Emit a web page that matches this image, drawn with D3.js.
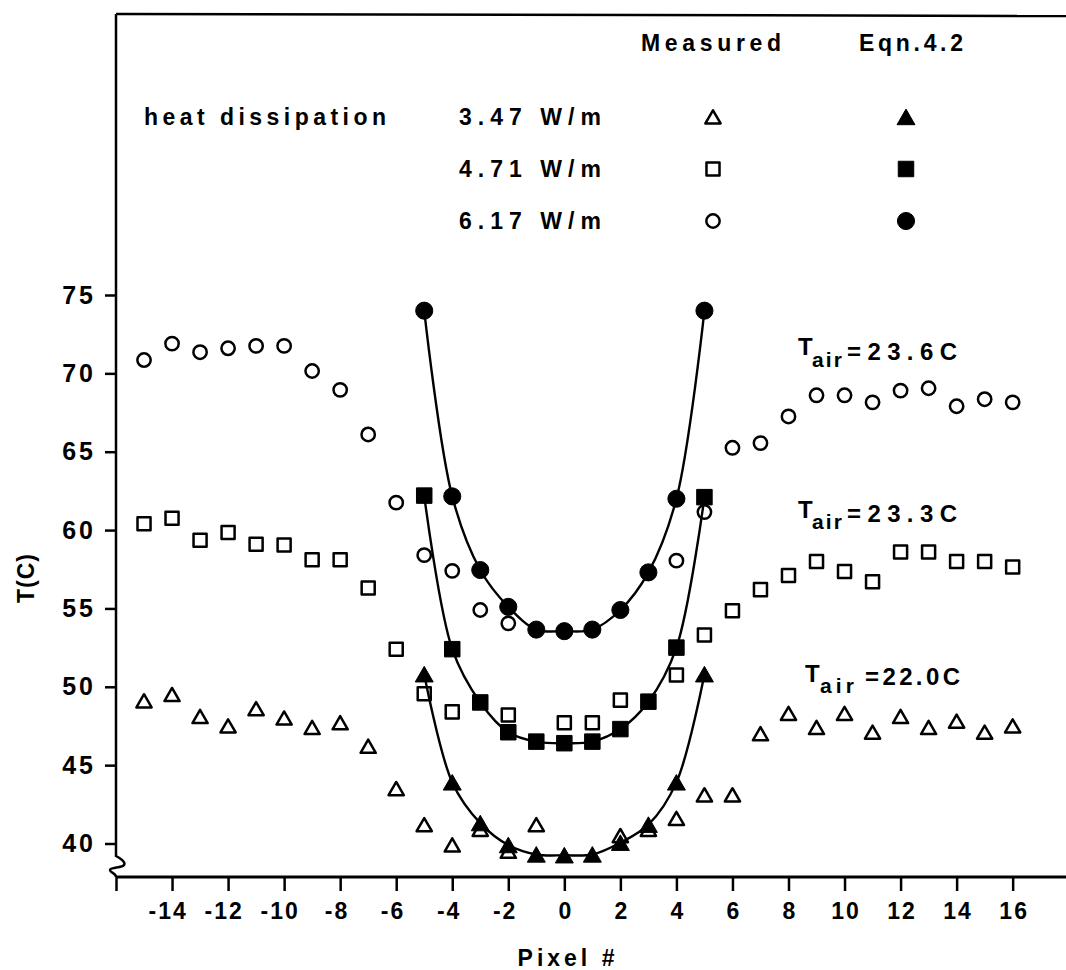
<!DOCTYPE html>
<html><head><meta charset="utf-8">
<script src="https://cdn.jsdelivr.net/npm/d3@7"></script>
<style>
html,body{margin:0;padding:0;background:#fff;}
svg{display:block;}
text{font-family:"Liberation Sans",Arial,sans-serif;font-weight:bold;fill:#000;}
</style></head><body>
<svg id="chart" width="1066" height="970"></svg>
<script>
// ---------- data ----------
const pixels = [-15,-14,-13,-12,-11,-10,-9,-8,-7,-6,-5,-4,-3,-2,-1,0,1,2,3,4,5,6,7,8,9,10,11,12,13,14,15,16];
const measured347 = [49.1,49.5,48.1,47.5,48.6,48.0,47.4,47.7,46.2,43.5,41.2,39.9,40.9,39.5,41.2,null,null,40.5,40.9,41.6,43.1,43.1,47.0,48.3,47.4,48.3,47.1,48.1,47.4,47.8,47.1,47.5];
const measured471 = [60.4,60.75,59.35,59.85,59.1,59.05,58.1,58.1,56.3,52.4,49.55,48.4,null,48.2,null,47.7,47.7,49.15,null,50.75,53.3,54.85,56.2,57.1,58.0,57.35,56.7,58.6,58.6,58.0,58.0,57.65];
const measured617 = [70.85,71.9,71.35,71.6,71.75,71.75,70.15,68.95,66.1,61.75,58.4,57.4,54.9,54.05,null,null,null,null,null,58.05,61.15,65.25,65.55,67.25,68.6,68.6,68.15,68.9,69.05,67.9,68.35,68.15];

const eqnPixels = [-5,-4,-3,-2,-1,0,1,2,3,4,5];
const eqn347 = [50.8,43.9,41.3,39.9,39.3,39.25,39.3,40.05,41.2,43.9,50.8];
const eqn471 = [62.2,52.4,49.0,47.1,46.5,46.4,46.5,47.3,49.05,52.5,62.1];
const eqn617 = [74.0,62.15,57.45,55.1,53.65,53.55,53.65,54.9,57.3,62.0,74.0];

const xTicks = [-16,-14,-12,-10,-8,-6,-4,-2,0,2,4,6,8,10,12,14,16];
const yTicks = [40,45,50,55,60,65,70,75];

const legendPowers = ["3.47 W/m","4.71 W/m","6.17 W/m"];
const airTemps = ["=23.6C","=23.3C","=22.0C"];

// ---------- layout ----------
const svg = d3.select("#chart");
const x = d3.scaleLinear().domain([-16, 18]).range([116, 1068.7]);
const y = d3.scaleLinear().domain([40, 75]).range([843.5, 295]);
const axisY = 877, frameTop = 14, axisX = 116;

// frame
svg.append("line").attr("x1", axisX).attr("x2", 1066).attr("y1", frameTop).attr("y2", frameTop + 2)
  .attr("stroke", "#000").attr("stroke-width", 2.5);
svg.append("path")
  .attr("d", `M${axisX},${frameTop} L${axisX},856 C${axisX+4},858 ${axisX+10},862 ${axisX+8},865 C${axisX+6},868 ${axisX-6},867 ${axisX-6},870 C${axisX-6},873 ${axisX},873 ${axisX},${axisY}`)
  .attr("fill", "none").attr("stroke", "#000").attr("stroke-width", 2.5);
svg.append("line").attr("x1", axisX).attr("x2", 1066).attr("y1", axisY).attr("y2", axisY)
  .attr("stroke", "#000").attr("stroke-width", 3);

// y axis
const gy = svg.append("g").attr("transform", `translate(${axisX},0)`)
  .call(d3.axisLeft(y).tickValues(yTicks).tickSize(11).tickPadding(9).tickFormat(d => String(d)));
gy.select(".domain").remove();
gy.selectAll(".tick line").attr("stroke", "#000").attr("stroke-width", 2.5);
gy.selectAll(".tick text").attr("font-size", 25).attr("letter-spacing", 3)
  .style("font-family", '"Liberation Sans",Arial,sans-serif').style("font-weight", "bold").attr("fill", "#000");

// x axis
const gx = svg.append("g").attr("transform", `translate(0,${axisY})`)
  .call(d3.axisBottom(x).tickValues(xTicks).tickSize(14).tickPadding(12).tickFormat(d => d === -16 ? "" : String(d)));
gx.select(".domain").remove();
gx.selectAll(".tick line").attr("stroke", "#000").attr("stroke-width", 2.5);
gx.selectAll(".tick text").attr("font-size", 23).attr("letter-spacing", 2)
  .style("font-family", '"Liberation Sans",Arial,sans-serif').style("font-weight", "bold").attr("fill", "#000")
  .attr("text-anchor", d => d < 0 ? "end" : "middle")
  .attr("x", d => d < 0 ? String(Math.abs(d)).length * 6.6 + 2 : 1);

// axis titles
svg.append("text").attr("transform", "translate(34,578) rotate(-90)").attr("text-anchor", "middle")
  .attr("font-size", 23).attr("letter-spacing", 1).text("T(C)");
svg.append("text").attr("x", 568).attr("y", 966).attr("text-anchor", "middle")
  .attr("font-size", 23).attr("letter-spacing", 4).text("Pixel #");

// ---------- marks ----------
const sym = {
  triOpen: d3.symbol(d3.symbolTriangle, 100)(),
  triFill: d3.symbol(d3.symbolTriangle, 140)(),
  sqOpen: d3.symbol(d3.symbolSquare, 170)(),
  sqFill: d3.symbol(d3.symbolSquare, 240)(),
  cirOpen: d3.symbol(d3.symbolCircle, 140)(),
  cirFill: d3.symbol(d3.symbolCircle, 230)()
};
const triOff = {triOpen: 2.1, triFill: 2.5};

const line = d3.line().x(d => x(d[0])).y(d => y(d[1])).curve(d3.curveCatmullRom.alpha(0.5));
[eqn347, eqn471, eqn617].forEach(vals => {
  svg.append("path").datum(eqnPixels.map((p, i) => [p, vals[i]]))
    .attr("d", line).attr("fill", "none").attr("stroke", "#000").attr("stroke-width", 2.4);
});

function drawPoints(px, vals, key, filled) {
  const pts = px.map((p, i) => [p, vals[i]]).filter(d => d[1] != null);
  svg.append("g").selectAll("path").data(pts).join("path")
    .attr("d", sym[key])
    .attr("transform", d => `translate(${x(d[0])},${y(d[1]) + (triOff[key] || 0)})`)
    .attr("fill", filled ? "#000" : "none")
    .attr("stroke", "#000").attr("stroke-width", filled ? 1 : 2.5).attr("stroke-linejoin", "round");
}
drawPoints(pixels, measured347, "triOpen", false);
drawPoints(pixels, measured471, "sqOpen", false);
drawPoints(pixels, measured617, "cirOpen", false);
drawPoints(eqnPixels, eqn347, "triFill", true);
drawPoints(eqnPixels, eqn471, "sqFill", true);
drawPoints(eqnPixels, eqn617, "cirFill", true);

// ---------- legend ----------
const lf = 23;
svg.append("text").attr("x", 641).attr("y", 51).attr("font-size", lf).attr("textLength", 140).attr("lengthAdjust", "spacing").text("Measured");
svg.append("text").attr("x", 859).attr("y", 51).attr("font-size", lf).attr("textLength", 104).attr("lengthAdjust", "spacing").text("Eqn.4.2");
svg.append("text").attr("x", 144).attr("y", 125).attr("font-size", lf).attr("textLength", 242).attr("lengthAdjust", "spacing").text("heat dissipation");
const rowY = [125, 177, 229];
const legKeys = [["triOpen","triFill"],["sqOpen","sqFill"],["cirOpen","cirFill"]];
legendPowers.forEach((t, i) => {
  svg.append("text").attr("x", 459).attr("y", rowY[i]).attr("font-size", lf).attr("textLength", 142).attr("lengthAdjust", "spacing").text(t);
  const [o, f] = legKeys[i];
  svg.append("path").attr("d", sym[o]).attr("transform", `translate(713,${rowY[i] - 8 + (triOff[o] || 0)})`)
    .attr("fill", "none").attr("stroke", "#000").attr("stroke-width", 2.5).attr("stroke-linejoin", "round");
  svg.append("path").attr("d", sym[f]).attr("transform", `translate(906,${rowY[i] - 8 + (triOff[f] || 0)})`)
    .attr("fill", "#000").attr("stroke", "#000").attr("stroke-width", 1);
});

// ---------- T_air labels ----------
const airPos = [
  {tx: 798, tb: 355, ax: 812, ab: 367, aw: 30, vx: 847, vb: 360, vw: 110},
  {tx: 798, tb: 518, ax: 812, ab: 529, aw: 30, vx: 847, vb: 522, vw: 110},
  {tx: 805, tb: 682, ax: 820, ab: 693, aw: 34, vx: 865, vb: 685, vw: 95}
];
airTemps.forEach((v, i) => {
  const p = airPos[i];
  const t = svg.append("text").attr("font-size", 24);
  t.append("tspan").attr("x", p.tx).attr("y", p.tb).text("T");
  t.append("tspan").attr("x", p.ax).attr("y", p.ab).attr("font-size", 21).attr("textLength", p.aw).attr("lengthAdjust", "spacing").text("air");
  t.append("tspan").attr("x", p.vx).attr("y", p.vb).attr("textLength", p.vw).attr("lengthAdjust", "spacing").text(v);
});
</script>
</body></html>
